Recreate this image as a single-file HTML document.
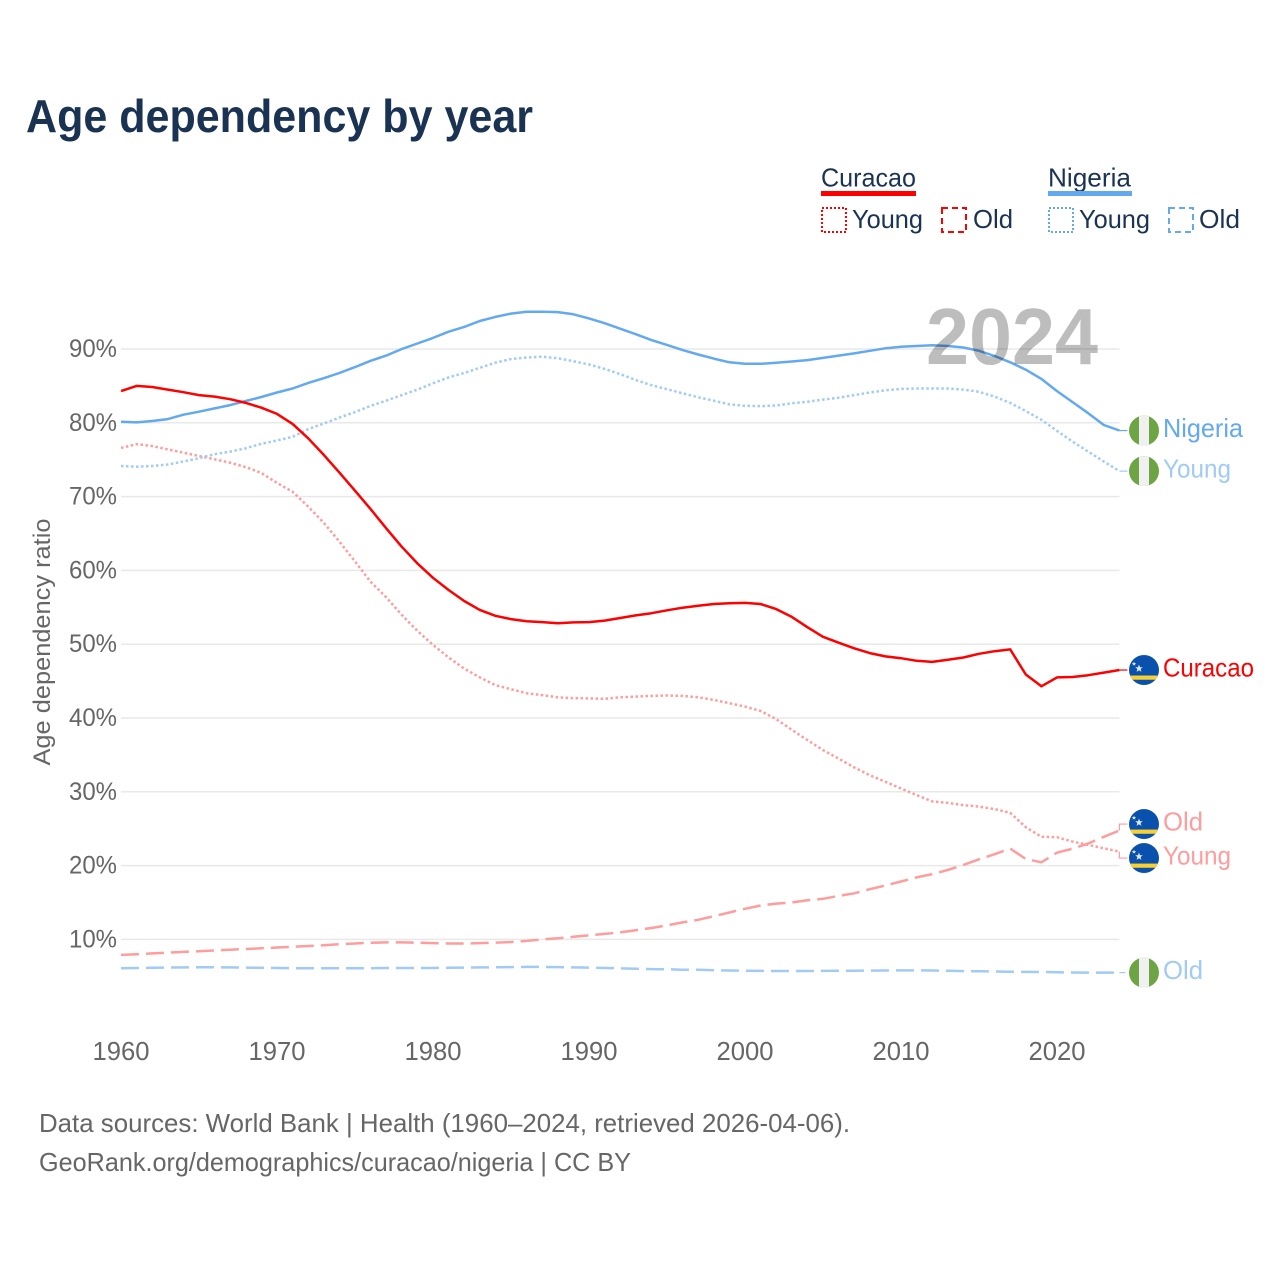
<!DOCTYPE html>
<html lang="en">
<head>
<meta charset="utf-8">
<title>Age dependency by year</title>
<style>
html,body{margin:0;padding:0;background:#fff;width:1280px;height:1280px;overflow:hidden}
svg{display:block;font-family:"Liberation Sans",sans-serif}
</style>
</head>
<body>
<svg id="chart" xmlns="http://www.w3.org/2000/svg" width="1280" height="1280" viewBox="0 0 1280 1280">
  <defs>
    <clipPath id="flag-clip"><circle cx="0" cy="0" r="15"></circle></clipPath>
    <g id="flag-curacao">
      <g clip-path="url(#flag-clip)">
        <rect x="-15" y="-15" width="30" height="30" fill="#0a50ad"></rect>
        <rect x="-15" y="5.5" width="30" height="4.2" fill="#f9d02f"></rect>
        <polygon points="-5,-5.5 -4,-2.8 -1.2,-2.8 -3.4,-1 -2.6,1.8 -5,0.2 -7.4,1.8 -6.6,-1 -8.8,-2.8 -6,-2.8" fill="#e4ebf5"></polygon>
        <polygon points="-10,-8.4 -9.4,-6.9 -7.8,-6.9 -9,-5.9 -8.6,-4.4 -10,-5.3 -11.4,-4.4 -11,-5.9 -12.2,-6.9 -10.6,-6.9" fill="#e4ebf5"></polygon>
      </g>
    </g>
    <g id="flag-nigeria">
      <g clip-path="url(#flag-clip)">
        <rect x="-15" y="-15" width="30" height="30" fill="#6da544"></rect>
        <rect x="-5" y="-15" width="10" height="30" fill="#f0f0f0"></rect>
      </g>
    </g>
  </defs>

  <text x="26" y="132" font-size="46" font-weight="700" fill="#1a3353" textLength="507" lengthAdjust="spacingAndGlyphs">Age dependency by year</text>

  <g font-size="26" fill="#1a3353">
    <text x="821" y="186.5" textLength="95" lengthAdjust="spacingAndGlyphs">Curacao</text>
    <rect x="821" y="191" width="95" height="5" fill="#ff0000"></rect>
    <rect x="822" y="208" width="24" height="24" fill="none" stroke="#ff0000" stroke-width="2" stroke-dasharray="2 2"></rect>
    <text x="852" y="228" textLength="71" lengthAdjust="spacingAndGlyphs">Young</text>
    <rect x="942" y="208" width="24" height="24" fill="none" stroke="#ff0000" stroke-width="2" stroke-dasharray="6 4"></rect>
    <text x="973" y="228" textLength="40" lengthAdjust="spacingAndGlyphs">Old</text>
    <text x="1048" y="186.5" textLength="83" lengthAdjust="spacingAndGlyphs">Nigeria</text>
    <rect x="1048" y="191" width="84" height="5" fill="#63a9f0"></rect>
    <rect x="1049" y="208" width="24" height="24" fill="none" stroke="#63a9f0" stroke-width="2" stroke-dasharray="2 2"></rect>
    <text x="1079" y="228" textLength="71" lengthAdjust="spacingAndGlyphs">Young</text>
    <rect x="1169" y="208" width="24" height="24" fill="none" stroke="#63a9f0" stroke-width="2" stroke-dasharray="6 4"></rect>
    <text x="1199" y="228" textLength="41" lengthAdjust="spacingAndGlyphs">Old</text>
  </g>

  <g id="grid"></g>
  <g id="y-axis"></g>
  <g id="x-axis"></g>
  <text transform="translate(50,642) rotate(-90)" font-size="24" fill="#666666" text-anchor="middle" textLength="247" lengthAdjust="spacingAndGlyphs">Age dependency ratio</text>
  <g id="series"></g>
  <text x="1098" y="364" font-size="80" font-weight="700" fill="#000000" fill-opacity="0.26" text-anchor="end" textLength="172" lengthAdjust="spacingAndGlyphs">2024</text>
  <g id="end-labels"></g>

  <g font-size="26" fill="#666666">
    <text x="39" y="1132" textLength="811" lengthAdjust="spacingAndGlyphs">Data sources: World Bank | Health (1960–2024, retrieved 2026-04-06).</text>
    <text x="39" y="1171" textLength="592" lengthAdjust="spacingAndGlyphs">GeoRank.org/demographics/curacao/nigeria | CC BY</text>
  </g>
</svg>
<script>
const startYear = 1960;
const xTickYears = [1960, 1970, 1980, 1990, 2000, 2010, 2020];
const yTickValues = [10, 20, 30, 40, 50, 60, 70, 80, 90];

const curacaoTotal = [
  84.3,85.0,84.85,84.5,84.15,83.75,83.55,83.2,82.7,82.05,
  81.2,79.85,77.9,75.65,73.25,70.8,68.3,65.7,63.2,60.95,
  59.0,57.35,55.85,54.65,53.85,53.4,53.1,53.0,52.85,52.95,
  53.0,53.2,53.55,53.9,54.2,54.6,54.95,55.2,55.45,55.55,
  55.6,55.45,54.75,53.7,52.3,51.0,50.2,49.45,48.8,48.35,
  48.1,47.75,47.6,47.9,48.2,48.7,49.05,49.3,45.9,44.3,
  45.5,45.55,45.8,46.15,46.5
];
const curacaoYoung = [
  76.6,77.1,76.85,76.4,75.95,75.5,75.05,74.6,74.0,73.2,
  71.85,70.65,68.65,66.45,63.9,61.2,58.45,56.35,53.95,51.8,
  49.9,48.2,46.7,45.5,44.45,43.9,43.35,43.1,42.8,42.7,
  42.65,42.6,42.8,42.9,43.0,43.05,43.0,42.8,42.45,42.0,
  41.55,40.95,39.85,38.4,37.0,35.65,34.5,33.3,32.25,31.35,
  30.45,29.55,28.7,28.5,28.2,28.0,27.65,27.15,25.2,23.9,
  23.85,23.25,22.8,22.35,21.9
];
const curacaoOld = [
  7.9,8.0,8.1,8.2,8.3,8.4,8.5,8.6,8.7,8.8,
  8.9,9.0,9.1,9.2,9.35,9.45,9.55,9.6,9.6,9.55,
  9.5,9.45,9.45,9.5,9.55,9.65,9.8,10.0,10.15,10.35,
  10.55,10.75,10.95,11.25,11.55,11.9,12.3,12.65,13.15,13.65,
  14.15,14.6,14.85,15.0,15.3,15.5,15.9,16.25,16.8,17.3,
  17.85,18.4,18.85,19.4,20.1,20.85,21.55,22.3,20.9,20.45,
  21.75,22.3,23.0,23.9,24.75
];
const nigeriaTotal = [
  80.15,80.05,80.25,80.5,81.1,81.5,81.95,82.4,82.95,83.5,
  84.1,84.65,85.4,86.05,86.75,87.55,88.4,89.1,90.0,90.75,
  91.5,92.35,93.0,93.8,94.35,94.8,95.05,95.05,95.0,94.7,
  94.15,93.5,92.75,92.0,91.2,90.55,89.85,89.25,88.7,88.2,
  88.0,88.0,88.15,88.3,88.5,88.8,89.1,89.4,89.75,90.1,
  90.3,90.4,90.5,90.4,90.2,89.75,89.05,88.2,87.2,85.95,
  84.3,82.8,81.3,79.7,78.95
];
const nigeriaYoung = [
  74.15,74.05,74.15,74.35,74.75,75.2,75.75,76.1,76.55,77.15,
  77.6,78.1,79.15,79.9,80.7,81.45,82.3,83.0,83.75,84.5,
  85.35,86.15,86.75,87.45,88.15,88.65,88.85,88.95,88.75,88.35,
  87.9,87.3,86.6,85.8,85.1,84.55,84.0,83.45,83.0,82.5,
  82.3,82.25,82.35,82.65,82.85,83.15,83.4,83.75,84.1,84.4,
  84.6,84.65,84.65,84.65,84.5,84.2,83.55,82.7,81.6,80.4,
  78.9,77.45,76.1,74.75,73.45
];
const nigeriaOld = [
  6.1,6.12,6.15,6.18,6.2,6.22,6.22,6.2,6.18,6.15,
  6.12,6.1,6.1,6.1,6.1,6.1,6.1,6.12,6.12,6.12,
  6.12,6.15,6.18,6.2,6.22,6.25,6.27,6.27,6.25,6.2,
  6.18,6.12,6.08,6.02,5.98,5.95,5.9,5.88,5.82,5.78,
  5.75,5.73,5.72,5.72,5.72,5.73,5.75,5.75,5.77,5.78,
  5.8,5.8,5.78,5.75,5.7,5.68,5.65,5.62,5.6,5.58,
  5.55,5.52,5.5,5.5,5.5
];

const NS = 'http://www.w3.org/2000/svg';
const x = function (year) { return 121 + (year - 1960) * 15.6; };
const y = function (v) { return 349 + (90 - v) * 7.38; };
function make(tag, parent, attrs, text) {
  const e = document.createElementNS(NS, tag);
  for (const k in attrs) e.setAttribute(k, attrs[k]);
  if (text !== undefined) e.textContent = text;
  parent.appendChild(e);
  return e;
}
const gridG = document.getElementById('grid');
const yAxisG = document.getElementById('y-axis');
const xAxisG = document.getElementById('x-axis');
const seriesG = document.getElementById('series');
const labelsG = document.getElementById('end-labels');

yTickValues.forEach(function (v) {
  const line = make('line', gridG, { x1: x(1960), x2: x(2024), y1: y(v), y2: y(v), stroke: '#e9e9e9', 'stroke-width': 1.5 });
  
  
  const t = make('text', yAxisG, { x: 117, y: y(v) + 8, 'text-anchor': 'end', 'font-size': 25, fill: '#666666', textLength: 48, lengthAdjust: 'spacingAndGlyphs' }, v + '%');
  
  
});
xTickYears.forEach(function (yr) {
  const t = make('text', xAxisG, { x: x(yr), y: 1060, 'text-anchor': 'middle', 'font-size': 26, fill: '#666666', textLength: 57, lengthAdjust: 'spacingAndGlyphs' }, String(yr));
  
  
});

const RED = '#ff0000', RED_FADE = '#ff9c9c', BLUE = '#63a9f0', BLUE_FADE = '#a1cbf5';
const DOTTED = '2.5 2.5', DASHED = '18 7', SOLID = 'none';
const seriesDefs = [
  { id: 'curacao-old', vals: curacaoOld, color: RED_FADE, dash: DASHED, flag: 'flag-curacao', label: 'Old', w: 40 },
  { id: 'nigeria-old', vals: nigeriaOld, color: BLUE_FADE, dash: DASHED, flag: 'flag-nigeria', label: 'Old', w: 40 },
  { id: 'curacao-young', vals: curacaoYoung, color: RED_FADE, dash: DOTTED, flag: 'flag-curacao', label: 'Young', w: 68 },
  { id: 'nigeria-young', vals: nigeriaYoung, color: BLUE_FADE, dash: DOTTED, flag: 'flag-nigeria', label: 'Young', w: 68 },
  { id: 'nigeria-total', vals: nigeriaTotal, color: BLUE, dash: SOLID, flag: 'flag-nigeria', label: 'Nigeria', w: 80 },
  { id: 'curacao-total', vals: curacaoTotal, color: RED, dash: SOLID, flag: 'flag-curacao', label: 'Curacao', w: 91 }
];

seriesDefs.forEach(function (s) {
  const pts = s.vals.map(function (v, i) { return x(startYear + i).toFixed(1) + ',' + y(v).toFixed(1); }).join(' ');
  const p = make('polyline', seriesG, { points: pts, fill: 'none', stroke: s.color, 'stroke-width': 2.5, 'stroke-linejoin': 'round', 'stroke-dasharray': s.dash });
  
  
});

// Label placement: start at the last value and push overlapping labels apart.
const placed = seriesDefs.map(function (s) {
  const raw = y(s.vals[s.vals.length - 1]);
  return { s: s, raw: raw, py: raw };
}).sort(function (a, b) { return a.raw - b.raw; });
const minGap = 34;
for (let pass = 0; pass < 20; pass++) {
  for (let i = 1; i < placed.length; i++) {
    const overlap = minGap - (placed[i].py - placed[i - 1].py);
    if (overlap > 0) {
      placed[i - 1].py -= overlap / 2;
      placed[i].py += overlap / 2;
    }
  }
}
const xEnd = x(startYear + 64);
placed.forEach(function (o) {
  const s = o.s;
  const leader = make('polyline', labelsG, { points: xEnd + ',' + o.raw + ' ' + xEnd + ',' + o.py + ' ' + (xEnd + 8) + ',' + o.py, fill: 'none', stroke: s.color, 'stroke-width': 1.2, 'stroke-dasharray': s.id === 'nigeria-old' ? '6 3' : 'none' });
  
  
  const flag = make('use', labelsG, { href: '#' + s.flag, x: 1144, y: o.py });
  
  
  const t = make('text', labelsG, { x: 1163, y: o.py + 6.5, 'font-size': 26, fill: s.color, textLength: s.w, lengthAdjust: 'spacingAndGlyphs' }, s.label);
  
  
});
</script>
</body>
</html>
